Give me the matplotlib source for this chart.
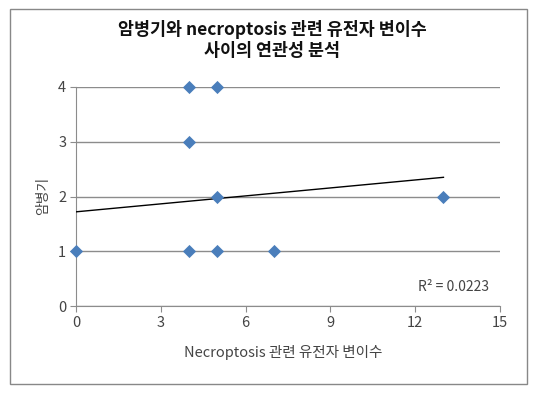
import matplotlib
matplotlib.use("Agg")
import matplotlib.pyplot as plt
from matplotlib.patches import Rectangle

plt.rcParams['font.family'] = ['Noto Sans CJK KR', 'DejaVu Sans']

# Data
gene_variants = [0, 4, 5, 4, 5, 13, 4, 5, 7]
stage = [1, 4, 4, 3, 2, 2, 1, 1, 1]
trend_intercept = 1.72
trend_slope = 0.0485
trend_x = [0, 13]
r2_text = "R² = 0.0223"
x_ticks = [0, 3, 6, 9, 12, 15]
y_ticks = [0, 1, 2, 3, 4]

fig = plt.figure(figsize=(5.38, 3.94), dpi=100)
fig.patches.append(Rectangle((10/538, 1-384/394), 517/538, 375/394, transform=fig.transFigure,
                             fill=False, edgecolor='#888888', linewidth=1.0))

ax = fig.add_axes([76/538, 1-306/394, 424/538, 219/394])
ax.set_xlim(0, 15)
ax.set_ylim(0, 4)
ax.set_xticks(x_ticks)
ax.set_yticks(y_ticks)
ax.yaxis.grid(True, color='#8c8c8c', linewidth=1.0)
ax.set_axisbelow(True)
for s in ['top', 'right']:
    ax.spines[s].set_visible(False)
for s in ['left', 'bottom']:
    ax.spines[s].set_color('#8c8c8c')
ax.tick_params(axis='both', direction='out', length=4, color='#8c8c8c', labelsize=10.5,
               labelcolor='#444444', pad=3)

ty = [trend_intercept + trend_slope * v for v in trend_x]
ax.plot(trend_x, ty, color='black', linewidth=1.0, zorder=3)
ax.scatter(gene_variants, stage, marker='D', s=45, color='#4a7ebb', zorder=4, clip_on=False,
           linewidths=0)

ax.text(453/538, 1-287/394, r2_text, transform=fig.transFigure, fontsize=10,
        color='#444444', ha='center', va='center')

fig.text(272/538, 1-40/394, "암병기와 necroptosis 관련 유전자 변이수\n사이의 연관성 분석",
         ha='center', va='center', fontsize=12.5, fontweight='bold', linespacing=1.15,
         color='#111111')
fig.text(283/538, 1-352/394, "Necroptosis 관련 유전자 변이수", ha='center', va='center',
         fontsize=10.5, color='#444444')
fig.text(43/538, 1-196/394, "암병기", ha='center', va='center', rotation=90,
         fontsize=10, color='#444444')

fig.savefig("out.png", dpi=100)
